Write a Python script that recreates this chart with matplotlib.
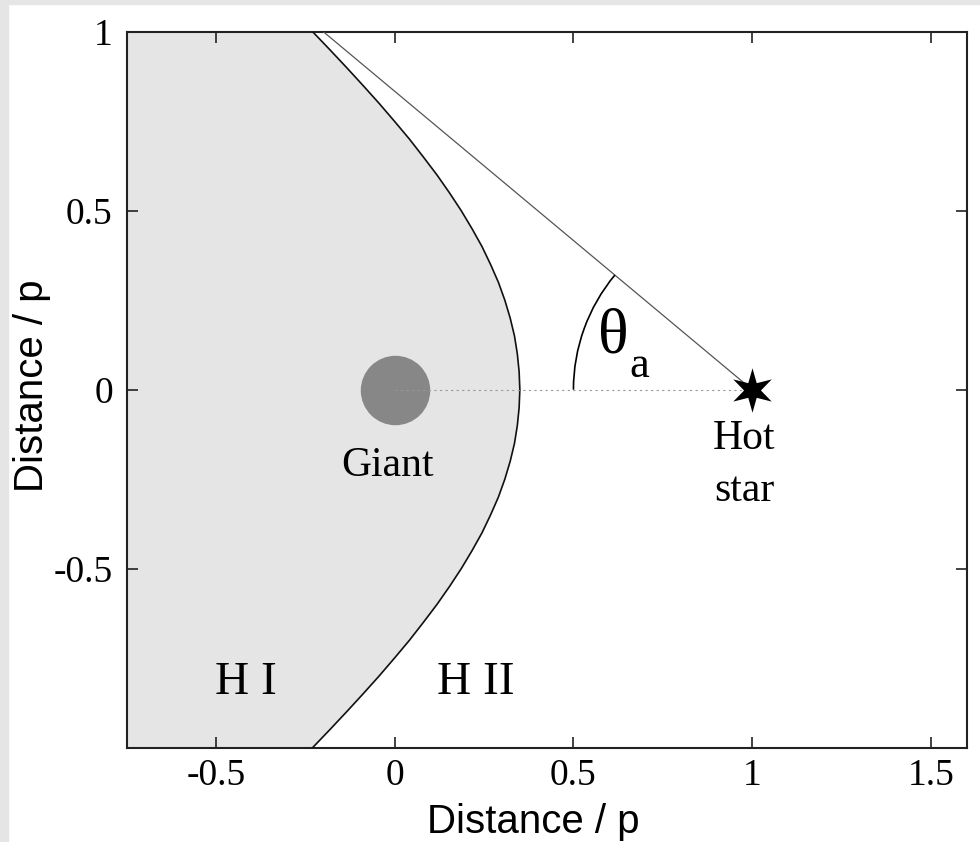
import numpy as np
import matplotlib
matplotlib.use("Agg")
import matplotlib.pyplot as plt
from matplotlib.patches import Arc, Rectangle
from matplotlib.path import Path

plt.rcParams['axes.unicode_minus'] = False

# ionisation front (HI / HII boundary) (upper half, y >= 0)
half_y = [0.0, 0.05, 0.1, 0.15, 0.2, 0.25, 0.3, 0.35, 0.4, 0.45, 0.5,
          0.55, 0.6, 0.65, 0.7, 0.75, 0.8, 0.85, 0.9, 0.95, 1.0]
half_x = [0.350, 0.348, 0.343, 0.335, 0.323, 0.308, 0.290, 0.268, 0.244, 0.216, 0.186,
          0.153, 0.118, 0.080, 0.041, -0.001, -0.044, -0.089, -0.135, -0.182, -0.23]
# the front is symmetric about the star-giant axis
front_y = [-v for v in half_y[::-1]] + half_y[1:]
front_x = half_x[::-1] + half_x[1:]

giant_xy = (0.0, 0.0)
star_xy = (1.0, 0.0)
tangent_x = [-0.2, 1.0]
tangent_y = [1.0, 0.0]
arc_radius = 0.5

xticks = [-0.5, 0, 0.5, 1, 1.5]
xticklabels = ['-0.5', '0', '0.5', '1', '1.5']
yticks = [-1, -0.5, 0, 0.5, 1]
yticklabels = ['', '-0.5', '0', '0.5', '1']

fig = plt.figure(figsize=(9.8, 8.42), dpi=100)
ax = fig.add_axes([0.1293, 0.112, 0.857, 0.8504])

# shaded HI region
ax.fill_betweenx(front_y, -0.75, front_x, color='#e5e5e5', lw=0, zorder=1)
ax.plot(front_x, front_y, color='#111111', lw=1.2, zorder=3)

# giant and hot star
ax.plot(giant_xy[0], giant_xy[1], 'o', ms=50, color='#878787', mec='none', zorder=2)
ax.plot([giant_xy[0], star_xy[0]], [giant_xy[1], star_xy[1]], color='#999999',
        lw=0.8, ls=(0, (2, 3)), zorder=4)
ax.plot(tangent_x, tangent_y, color='#555555', lw=0.9, zorder=4)
star = Path.unit_regular_star(6, 0.38)
ax.plot(star_xy[0], star_xy[1], marker=star, ms=32, color='black', mec='none', zorder=5)

# opening angle arc
ang = np.degrees(np.arctan2(tangent_y[0] - star_xy[1], tangent_x[0] - star_xy[0]))
ax.add_patch(Arc(star_xy, 2 * arc_radius, 2 * arc_radius, theta1=ang, theta2=180,
                 color='black', lw=1.2, zorder=4))

serif = 'Liberation Serif'
ax.text(0.611, 0.105, 'θ', fontsize=46, family=serif, ha='center', va='baseline')
ax.text(0.685, 0.036, 'a', fontsize=32, family=serif, ha='center', va='baseline')
ax.text(-0.019, -0.241, 'Giant', fontsize=30, family=serif, ha='center', va='baseline')
ax.text(0.978, -0.165, 'Hot', fontsize=30, family=serif, ha='center', va='baseline')
ax.text(0.978, -0.311, 'star', fontsize=30, family=serif, ha='center', va='baseline')
ax.text(-0.416, -0.849, 'H I', fontsize=34, family=serif, ha='center', va='baseline')
ax.text(0.226, -0.849, 'H II', fontsize=34, family=serif, ha='center', va='baseline')

ax.set_xlim(-0.75, 1.6)
ax.set_ylim(-1, 1)
ax.set_xticks(xticks)
ax.set_xticklabels(xticklabels)
ax.set_yticks(yticks)
ax.set_yticklabels(yticklabels)
ax.tick_params(direction='in', length=8, width=1.2, top=True, right=True,
               labelsize=27, pad=10, color='#222222')
ax.tick_params(axis='x', pad=8)
for lab in ax.get_xticklabels() + ax.get_yticklabels():
    lab.set_family(serif)
for sp in ax.spines.values():
    sp.set_linewidth(1.5)
    sp.set_color('#222222')

ax.set_xlabel('Distance / p', fontsize=29, family='Liberation Sans')
ax.set_ylabel('Distance / p', fontsize=29, family='Liberation Sans')
ax.xaxis.set_label_coords(0.484, -0.077)
ax.yaxis.set_label_coords(-0.09, 0.505)

# grey strips at the top and left edge of the picture
fig.patches.append(Rectangle((0, 0), 8 / 980, 1, transform=fig.transFigure,
                             color='#e5e5e5', zorder=0))
fig.patches.append(Rectangle((0, 1 - 4 / 842), 1, 4 / 842, transform=fig.transFigure,
                             color='#e5e5e5', zorder=0))

fig.savefig('out.png', dpi=100, facecolor='white')
